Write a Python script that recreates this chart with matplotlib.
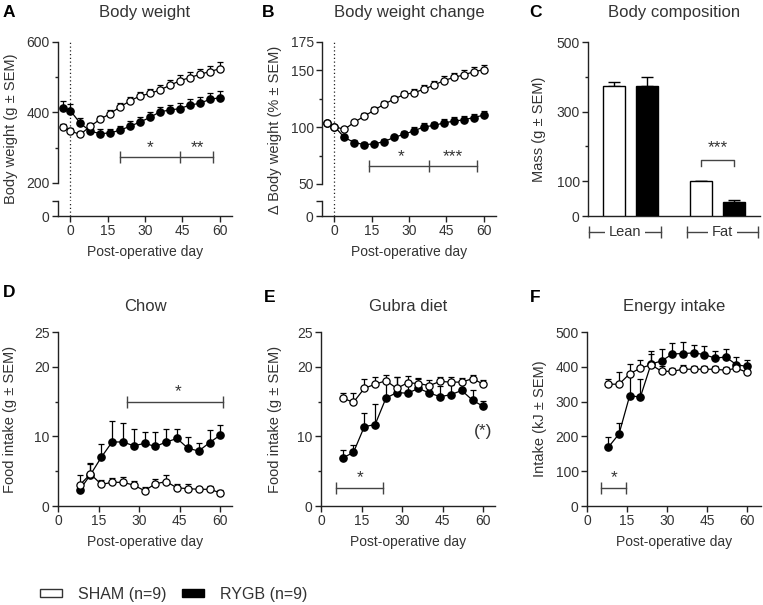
import matplotlib.pyplot as plt
from matplotlib.patches import Patch
import matplotlib.transforms as mtransforms

plt.rcParams['font.family'] = ['Liberation Sans', 'DejaVu Sans']
plt.rcParams['font.size'] = 10
plt.rcParams['text.color'] = '#333333'
plt.rcParams['axes.labelcolor'] = '#333333'
plt.rcParams['xtick.color'] = '#222222'
plt.rcParams['ytick.color'] = '#222222'
plt.rcParams['xtick.labelcolor'] = '#333333'
plt.rcParams['ytick.labelcolor'] = '#333333'

# ---- data ----
days_bw = [-3, 0, 4, 8, 12, 16, 20, 24, 28, 32, 36, 40, 44, 48, 52, 56, 60]
bw_sham = [359, 347, 338, 361, 381, 397, 416, 433, 447, 454, 464, 477, 490, 499, 508, 516, 524]
bw_sham_sem = [8, 8, 8, 9, 10, 10, 10, 11, 12, 12, 13, 14, 15, 15, 16, 17, 18]
bw_rygb = [414, 405, 369, 347, 340, 342, 350, 361, 373, 386, 402, 407, 411, 421, 426, 437, 442]
bw_rygb_sem = [20, 20, 14, 12, 12, 12, 13, 14, 14, 15, 15, 15, 16, 16, 17, 17, 18]

bwc_sham = [103.5, 100.6, 98, 104.4, 109.7, 115, 120.3, 124.7, 128.8, 130.3, 133.5, 137, 141, 143.8, 146, 148.8, 150.6]
bwc_sham_sem = [1.5, 1, 2, 2, 2.5, 2.5, 3, 3, 3, 3.5, 3.5, 3.5, 4, 4, 4, 4.5, 4.5]
bwc_rygb = [103.5, 100.6, 91, 86.5, 84.7, 85.3, 87.4, 91, 93.8, 96.8, 100.3, 101.5, 103.8, 105.3, 106.5, 108.5, 110.6]
bwc_rygb_sem = [1.5, 1, 2, 2, 2, 2, 2.5, 2.5, 3, 3, 3, 3.5, 3.5, 3.5, 3.5, 3.5, 4]

comp_groups = ['Lean', 'Fat']
comp_sham = [375, 100]
comp_sham_sem = [9, 2]
comp_rygb = [375, 41]
comp_rygb_sem = [24, 6]

days_fi = [8, 12, 16, 20, 24, 28, 32, 36, 40, 44, 48, 52, 56, 60]
chow_sham = [3.0, 4.6, 3.1, 3.4, 3.4, 3.0, 2.2, 3.2, 3.5, 2.6, 2.5, 2.4, 2.4, 1.9]
chow_sham_sem = [1.5, 1.6, 0.7, 0.6, 0.7, 0.6, 0.5, 0.7, 1.0, 0.6, 0.6, 0.4, 0.5, 0.4]
chow_rygb = [2.3, 4.5, 7.0, 9.2, 9.2, 8.65, 9.0, 8.55, 9.2, 9.7, 8.3, 7.9, 9.1, 10.2]
chow_rygb_sem = [0.5, 1.6, 1.9, 3.0, 2.7, 2.4, 1.6, 2.05, 1.8, 1.35, 1.6, 1.1, 1.8, 1.5]

gubra_sham = [15.5, 14.9, 16.9, 17.5, 18.0, 16.9, 17.7, 17.6, 17.3, 17.9, 17.8, 17.8, 18.3, 17.5]
gubra_sham_sem = [0.7, 1.35, 1.3, 1.0, 0.8, 1.6, 1.0, 0.8, 0.8, 0.6, 0.7, 0.6, 0.5, 0.6]
gubra_rygb = [6.9, 7.7, 11.4, 11.7, 15.5, 16.3, 16.2, 16.9, 16.25, 15.7, 16.0, 16.6, 15.2, 14.3]
gubra_rygb_sem = [1.1, 1.0, 2.0, 3.0, 2.4, 2.2, 1.7, 1.4, 1.05, 1.6, 1.4, 1.0, 1.5, 0.8]

energy_sham = [350, 350, 380, 396, 406, 387, 387, 393, 393, 393, 393, 390, 396, 384]
energy_sham_sem = [15, 34, 28, 24, 40, 14, 10, 13, 8, 8, 8, 8, 8, 8]
energy_rygb = [169, 207, 317, 313, 408, 417, 437, 438, 440, 435, 425, 428, 406, 401]
energy_rygb_sem = [28, 31, 60, 53, 30, 34, 30, 34, 22, 24, 19, 22, 21, 19]

# significance bars: x breakpoints, y level, star labels and their x
sig_a_x, sig_a_y, sig_a_lab, sig_a_lx = [20, 44, 57.3], 273, ['*', '**'], [32, 51]
sig_b_x, sig_b_y, sig_b_lab, sig_b_lx = [14, 38, 57.3], 66.2, ['*', '***'], [27, 47.6]
sig_d_x, sig_d_y, sig_d_lab, sig_d_lx = [25.5, 60.8], 14.9, ['*'], [44.3]
sig_e_x, sig_e_y, sig_e_lab, sig_e_lx = [5.5, 22.9], 2.55, ['*'], [14.4]
sig_f_x, sig_f_y, sig_f_lab, sig_f_lx = [5.4, 14.75], 51, ['*'], [10]

LINE = '#222222'
SIG = '#444444'
STAR = 12.5

W, H = 763, 605
fig = plt.figure(figsize=(W / 100, H / 100), dpi=100)


def px_axes(left, top, right, bottom):
    return fig.add_axes([left / W, 1 - bottom / H, (right - left) / W, (bottom - top) / H])


def style(ax):
    for s in ['top', 'right']:
        ax.spines[s].set_visible(False)
    for s in ['left', 'bottom']:
        ax.spines[s].set_linewidth(1.0)
        ax.spines[s].set_color(LINE)
    ax.tick_params(length=4, width=1.0, pad=2)
    ax.tick_params(which='minor', length=2.5, width=1.0)


def series(ax, x, sham, sham_sem, rygb, rygb_sem):
    zs = [0] * len(rygb_sem)
    ax.errorbar(x, rygb, yerr=[zs, rygb_sem], color='black', lw=0.9, capsize=2.2,
                elinewidth=0.9, capthick=0.9, marker='o', ms=5.2, mfc='black', mec='black', zorder=3)
    zs = [0] * len(sham_sem)
    ax.errorbar(x, sham, yerr=[zs, sham_sem], color='black', lw=0.9, capsize=2.2,
                elinewidth=0.9, capthick=0.9, marker='o', ms=5.2, mfc='white', mec='black',
                mew=0.9, zorder=4)


def sig(ax, xs, y, labels, lx, off):
    ax.plot(xs, [y] * len(xs), color=SIG, lw=1.0, marker='|', ms=8.5, mew=1.0, zorder=2)
    for lab, x in zip(labels, lx):
        ax.text(x, y + off, lab, ha='center', va='bottom', fontsize=STAR, color='#333333')


def letter(x, y, s):
    fig.text(x / W, 1 - y / H, s, fontsize=12.5, fontweight='bold', color='black', va='top', ha='left')


# ---- A: body weight (broken axis) ----
axA = px_axes(58, 42, 232, 183)
axA2 = px_axes(58, 201, 232, 216)
for ax in (axA, axA2):
    style(ax)
    ax.set_xlim(-5, 65)
series(axA, days_bw, bw_sham, bw_sham_sem, bw_rygb, bw_rygb_sem)
axA.set_ylim(200, 600)
axA.set_yticks([200, 400, 600])
axA.set_yticks([300, 500], minor=True)
axA.spines['bottom'].set_visible(False)
axA.tick_params(axis='x', bottom=False, labelbottom=False)
axA.axvline(0, ymin=-0.13, ymax=1, color=LINE, lw=0.9, ls=(0, (1, 2)), clip_on=False)
sig(axA, sig_a_x, sig_a_y, sig_a_lab, sig_a_lx, 6)
axA2.set_ylim(0, 42)
axA2.set_yticks([0, 42])
axA2.set_yticklabels(['0', ''])
axA2.set_xticks([0, 15, 30, 45, 60])
axA2.axvline(0, color=LINE, lw=0.9, ls=(0, (1, 2)))
axA2.set_xlabel('Post-operative day', labelpad=5)
axA.set_ylabel('Body weight (g ± SEM)', fontsize=10.5)
axA.yaxis.set_label_coords(-0.23, 0.383)
axA.set_title('Body weight', pad=18)

# ---- B: body weight change ----
axB = px_axes(322, 42, 496, 184)
axB2 = px_axes(322, 201, 496, 216)
for ax in (axB, axB2):
    style(ax)
    ax.set_xlim(-5, 65)
series(axB, days_bw, bwc_sham, bwc_sham_sem, bwc_rygb, bwc_rygb_sem)
axB.set_ylim(50, 175)
axB.set_yticks([50, 100, 150, 175])
axB.set_yticks([75, 125], minor=True)
axB.spines['bottom'].set_visible(False)
axB.tick_params(axis='x', bottom=False, labelbottom=False)
axB.axvline(0, ymin=-0.12, ymax=1, color=LINE, lw=0.9, ls=(0, (1, 2)), clip_on=False)
sig(axB, sig_b_x, sig_b_y, sig_b_lab, sig_b_lx, 1.6)
axB2.set_ylim(0, 13)
axB2.set_yticks([0, 13])
axB2.set_yticklabels(['0', ''])
axB2.set_xticks([0, 15, 30, 45, 60])
axB2.axvline(0, color=LINE, lw=0.9, ls=(0, (1, 2)))
axB2.set_xlabel('Post-operative day', labelpad=5)
axB.set_ylabel('Δ Body weight (% ± SEM)', fontsize=10.5)
axB.yaxis.set_label_coords(-0.23, 0.383)
axB.set_title('Body weight change', pad=18)

# ---- C: body composition ----
axC = px_axes(588, 42, 760, 216)
style(axC)
centers = [1.94, 5.9]
off = 0.74
xs_sham = [c - off for c in centers]
xs_rygb = [c + off for c in centers]
axC.bar(xs_sham, comp_sham, width=1.0, color='white', edgecolor='black', lw=1.0, zorder=3)
axC.errorbar(xs_sham, comp_sham, yerr=[[0, 0], comp_sham_sem], fmt='none', ecolor='black',
             elinewidth=1.0, capsize=4, capthick=1.0, zorder=2)
axC.bar(xs_rygb, comp_rygb, width=1.0, color='black', edgecolor='black', lw=1.0, zorder=3)
axC.errorbar(xs_rygb, comp_rygb, yerr=[[0, 0], comp_rygb_sem], fmt='none', ecolor='black',
             elinewidth=1.0, capsize=4, capthick=1.0, zorder=2)
axC.set_xlim(0, 7.82)
axC.set_ylim(0, 500)
axC.set_yticks([0, 100, 300, 500])
axC.set_yticks([200, 400], minor=True)
axC.set_xticks([])
axC.plot([xs_sham[1], xs_sham[1], xs_rygb[1], xs_rygb[1]], [144, 162, 162, 144], color=SIG, lw=1.0)
axC.text(centers[1], 176, '***', ha='center', va='bottom', fontsize=STAR)
tr = mtransforms.blended_transform_factory(axC.transData, axC.transAxes)
brackets = [(0.05, 3.32), (4.5, 7.73)]
for (a, b), name in zip(brackets, comp_groups):
    axC.plot([a, b], [-0.092, -0.092], transform=tr, color=SIG, lw=1.0, marker='|', ms=8,
             mew=1.0, clip_on=False)
    axC.text((a + b) / 2, -0.092, name, transform=tr, ha='center', va='center', fontsize=10.5,
             bbox=dict(facecolor='white', edgecolor='none', pad=2.5), clip_on=False)
axC.set_ylabel('Mass (g ± SEM)', fontsize=10.5)
axC.yaxis.set_label_coords(-0.244, 0.5)
axC.set_title('Body composition', pad=18)

# ---- D, E, F: intake ----
axD = px_axes(58, 332, 232, 506)
axE = px_axes(321, 332, 495, 506)
axF = px_axes(587, 332, 761, 506)
for ax in (axD, axE, axF):
    style(ax)
    ax.set_xticks([0, 15, 30, 45, 60])
    ax.set_xlabel('Post-operative day', labelpad=5)

series(axD, days_fi, chow_sham, chow_sham_sem, chow_rygb, chow_rygb_sem)
axD.set_xlim(0, 64.3)
axD.set_ylim(0, 25)
axD.set_yticks([0, 10, 20, 25])
axD.set_yticks([5, 15], minor=True)
sig(axD, sig_d_x, sig_d_y, sig_d_lab, sig_d_lx, 0.4)
axD.set_ylabel('Food intake (g ± SEM)', fontsize=10.5)
axD.yaxis.set_label_coords(-0.236, 0.5)
axD.set_title('Chow', pad=15)

series(axE, days_fi, gubra_sham, gubra_sham_sem, gubra_rygb, gubra_rygb_sem)
axE.set_xlim(0, 64.3)
axE.set_ylim(0, 25)
axE.set_yticks([0, 10, 20, 25])
axE.set_yticks([5, 15], minor=True)
sig(axE, sig_e_x, sig_e_y, sig_e_lab, sig_e_lx, 0.4)
axE.text(59.8, 10.7, '(*)', ha='center', va='center', fontsize=STAR)
axE.set_ylabel('Food intake (g ± SEM)', fontsize=10.5)
axE.yaxis.set_label_coords(-0.224, 0.5)
axE.set_title('Gubra diet', pad=15)

series(axF, days_fi, energy_sham, energy_sham_sem, energy_rygb, energy_rygb_sem)
axF.set_xlim(0, 65.2)
axF.set_ylim(0, 500)
axF.set_yticks([0, 100, 200, 300, 400, 500])
sig(axF, sig_f_x, sig_f_y, sig_f_lab, sig_f_lx, 8)
axF.set_ylabel('Intake (kJ ± SEM)', fontsize=10.5)
axF.yaxis.set_label_coords(-0.23, 0.5)
axF.set_title('Energy intake', pad=15)

letter(3, 5, 'A')
letter(262, 5, 'B')
letter(529, 5, 'C')
letter(3, 285, 'D')
letter(264, 290, 'E')
letter(530, 290, 'F')

handles = [Patch(facecolor='white', edgecolor='#333333', lw=1.0, label='SHAM (n=9)'),
           Patch(facecolor='black', edgecolor='black', lw=1.0, label='RYGB (n=9)')]
fig.legend(handles=handles, ncol=2, frameon=False, loc='center left',
           bbox_to_anchor=(40 / W, 1 - 594 / H), borderaxespad=0, borderpad=0,
           handlelength=1.4, handleheight=0.45, handletextpad=0.95, columnspacing=1.0,
           fontsize=11.5)

fig.savefig('out.png', dpi=100, facecolor='white')
